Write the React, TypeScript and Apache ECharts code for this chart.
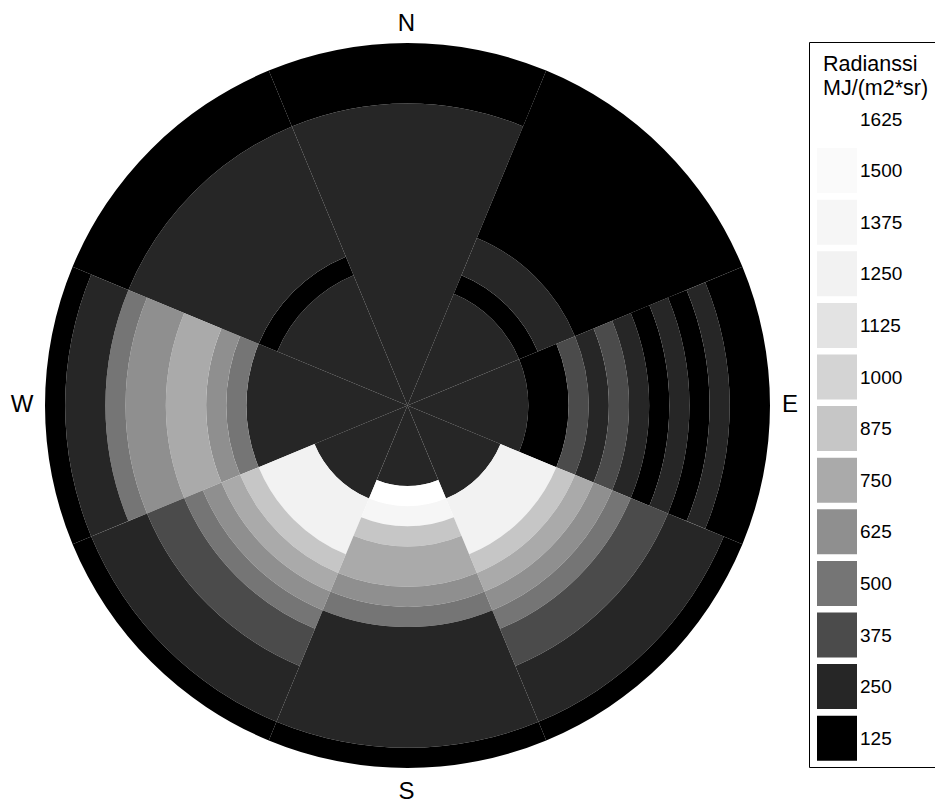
import React, { useEffect, useRef } from "react";
import * as echarts from "echarts";

// Azimuth sectors (45° each, centred on the compass directions)
const sectors = ["N", "NE", "E", "SE", "S", "SW", "W", "NW"];
// Radial bins: zenith angle 0–90°, 5° per bin (inner → outer)
const binWidthDeg = 5;

// Radiance class of every radial bin in each sector (inner → outer)
const sectorN = [250, 250, 250, 250, 250, 250, 250, 250, 250, 250, 250, 250, 250, 250, 250, 125, 125, 125];
const sectorNE = [250, 250, 250, 250, 250, 250, 125, 250, 250, 125, 125, 125, 125, 125, 125, 125, 125, 125];
const sectorE = [250, 250, 250, 250, 250, 250, 125, 125, 375, 250, 375, 250, 125, 250, 125, 250, 125, 125];
const sectorSE = [250, 250, 250, 250, 250, 1250, 1250, 1250, 875, 750, 625, 500, 375, 375, 250, 250, 250, 125];
const sectorS = [250, 250, 250, 250, 1625, 1375, 875, 750, 750, 625, 500, 250, 250, 250, 250, 250, 250, 125];
const sectorSW = [250, 250, 250, 250, 250, 1250, 1250, 1250, 875, 750, 625, 500, 375, 375, 250, 250, 250, 125];
const sectorW = [250, 250, 250, 250, 250, 250, 250, 250, 500, 625, 750, 750, 625, 625, 500, 250, 250, 125];
const sectorNW = [250, 250, 250, 250, 250, 250, 250, 125, 250, 250, 250, 250, 250, 250, 250, 125, 125, 125];

// Legend classes and their grey colours
const legendLevels = [1625, 1500, 1375, 1250, 1125, 1000, 875, 750, 625, 500, 375, 250, 125];
const legendColors = ["#ffffff", "#fafafa", "#f6f6f6", "#f2f2f2", "#e3e3e3", "#d4d4d4", "#c6c6c6", "#aaaaaa", "#8f8f8f", "#757575", "#4b4b4b", "#262626", "#000000"];

const legendTitle = ["Radianssi", "MJ/(m2*sr)"];
const compassLabels = ["N", "E", "S", "W"];

export default function App() {
  const ref = useRef<HTMLDivElement>(null);

  useEffect(() => {
    const chart = echarts.init(ref.current!, null, { renderer: "svg" });
    const sectorLevels = [sectorN, sectorNE, sectorE, sectorSE, sectorS, sectorSW, sectorW, sectorNW];
    const colorOf = (v: number) => legendColors[legendLevels.indexOf(v)];

    // merge consecutive bins of equal class into one stacked segment
    const runs = sectorLevels.map((lv) => {
      const r: { level: number; n: number }[] = [];
      lv.forEach((v) => {
        if (r.length && r[r.length - 1].level === v) r[r.length - 1].n += 1;
        else r.push({ level: v, n: 1 });
      });
      return r;
    });
    const maxRuns = Math.max(...runs.map((r) => r.length));

    const series: any[] = [];
    for (let j = 0; j < maxRuns; j++) {
      series.push({
        type: "bar",
        coordinateSystem: "polar",
        stack: "sky",
        barCategoryGap: "0%",
        silent: true,
        data: runs.map((r) =>
          r[j]
            ? { value: r[j].n * binWidthDeg, itemStyle: { color: colorOf(r[j].level) } }
            : { value: 0, itemStyle: { color: "rgba(0,0,0,0)" } }
        ),
      });
    }

    const cx = 407.5;
    const cy = 405.5;
    const R = 362.5;
    const font = "Liberation Sans, Arial, sans-serif";

    const compassPos: Record<string, [number, number]> = {
      N: [cx - 1, 22],
      E: [790, cy - 2],
      S: [cx - 1, 790],
      W: [22, cy - 2],
    };

    const graphics: any[] = compassLabels.map((t) => ({
      type: "text",
      x: compassPos[t][0],
      y: compassPos[t][1],
      style: { text: t, fill: "#000", font: `24px ${font}`, textAlign: "center", textVerticalAlign: "middle" },
    }));

    // legend box
    graphics.push({
      type: "rect",
      shape: { x: 809.5, y: 42.5, width: 140, height: 725 },
      style: { fill: "#fff", stroke: "#000", lineWidth: 1 },
      z: 1,
    });
    legendTitle.forEach((t, i) => {
      graphics.push({
        type: "text",
        x: 823,
        y: 64 + i * 24,
        z: 2,
        style: { text: t, fill: "#000", font: `21.5px ${font}`, textAlign: "left", textVerticalAlign: "middle" },
      });
    });
    legendLevels.forEach((lv, i) => {
      const yc = 119 + i * 51.6;
      graphics.push({
        type: "rect",
        z: 2,
        shape: { x: 817, y: yc - 22.5, width: 40, height: 45 },
        style: { fill: legendColors[i] },
      });
      graphics.push({
        type: "text",
        z: 2,
        x: 860,
        y: yc,
        style: { text: String(lv), fill: "#000", font: `19px ${font}`, textAlign: "left", textVerticalAlign: "middle" },
      });
    });

    chart.setOption({
      animation: false,
      backgroundColor: "#fff",
      polar: { center: [cx, cy], radius: [0, R] },
      angleAxis: {
        type: "category",
        data: sectors,
        startAngle: 90 + 22.5,
        clockwise: true,
        boundaryGap: true,
        axisLine: { show: false },
        axisTick: { show: false },
        axisLabel: { show: false },
        splitLine: { show: false },
      },
      radiusAxis: {
        type: "value",
        min: 0,
        max: 90,
        axisLine: { show: false },
        axisTick: { show: false },
        axisLabel: { show: false },
        splitLine: { show: false },
      },
      series,
      graphic: graphics,
    });

    return () => chart.dispose();
  }, []);

  return <div ref={ref} style={{ position: "fixed", left: 0, top: 0, width: 935, height: 805 }} />;
}
